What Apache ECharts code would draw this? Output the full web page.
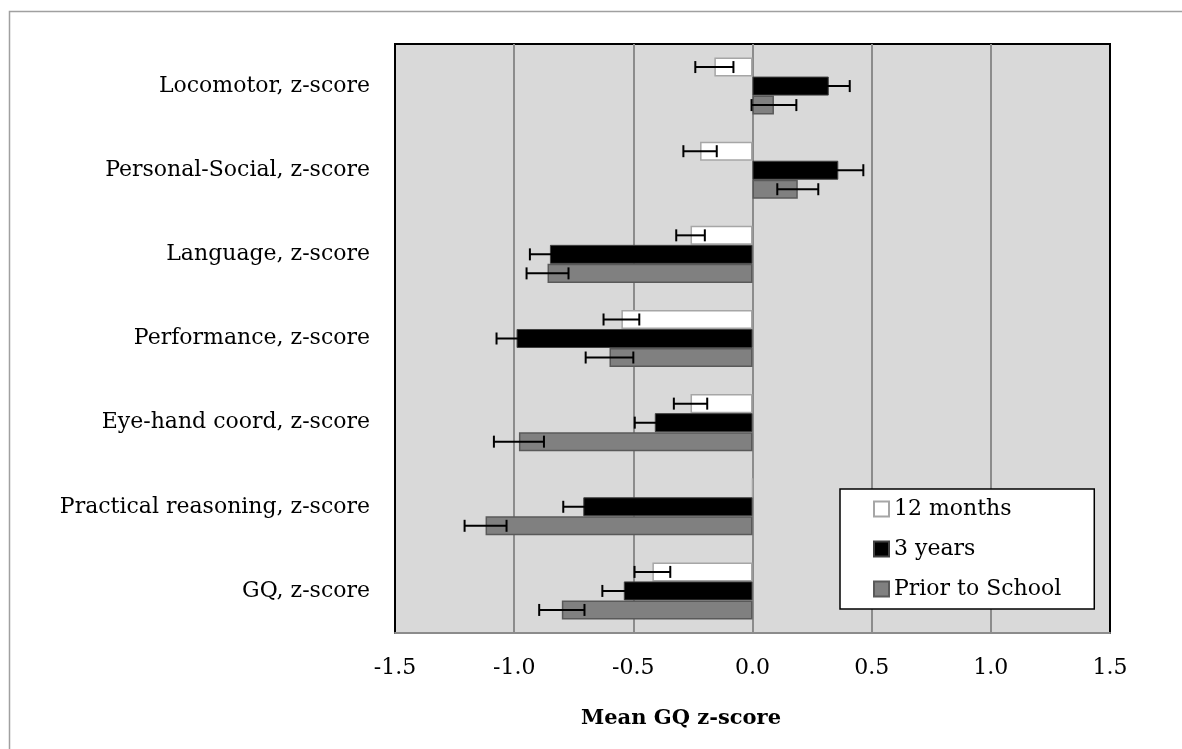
<!DOCTYPE html>
<html>
<head>
<meta charset="utf-8">
<script src="https://cdn.jsdelivr.net/npm/echarts@6/dist/echarts.min.js"></script>
<style>
	html, body { margin: 0; padding: 0; background: #fff; }
	#chart { width: 1182px; height: 749px; }
</style>
</head>
<body>
<div id="chart"></div>
<script>
var categories = ['Locomotor, z-score', 'Personal-Social, z-score', 'Language, z-score', 'Performance, z-score', 'Eye-hand coord, z-score', 'Practical reasoning, z-score', 'GQ, z-score'];
var seriesNames = ['12 months', '3 years', 'Prior to School'];
var months12 = [-0.16, -0.22, -0.26, -0.55, -0.26, 0, -0.42];
var months12Err = [0.08, 0.07, 0.06, 0.075, 0.07, null, 0.075];
var years3 = [0.32, 0.36, -0.85, -0.99, -0.41, -0.71, -0.54];
var years3Err = [0.088, 0.105, 0.084, 0.084, 0.084, 0.084, 0.09];
var priorSchool = [0.09, 0.19, -0.86, -0.60, -0.98, -1.12, -0.80];
var priorSchoolErr = [0.094, 0.086, 0.088, 0.1, 0.105, 0.088, 0.095];
var xTicks = [-1.5, -1.0, -0.5, 0.0, 0.5, 1.0, 1.5];

var fontFamily = 'DejaVu Serif';
var barPct = 0.226;

var myChart = echarts.init(document.getElementById('chart'));

// error bars: [low, category, high, slot]
var errData = [];
var allVals = [months12, years3, priorSchool];
var allErrs = [months12Err, years3Err, priorSchoolErr];
for (var s = 0; s < 3; s++) {
	for (var i = 0; i < categories.length; i++) {
		var e = allErrs[s][i];
		if (e == null) continue;
		errData.push([allVals[s][i] - e, i, allVals[s][i] + e, s]);
	}
}

function renderErr(params, api) {
	var cat = api.value(1);
	var lo = api.coord([api.value(0), cat]);
	var hi = api.coord([api.value(2), cat]);
	var band = api.size([0, 1])[1];
	var bw = band * barPct;
	var y = lo[1] + (api.value(3) - 1) * bw;
	var cap = 6;
	var style = { stroke: '#000', lineWidth: 2 };
	return {
		type: 'group',
		children: [
			{ type: 'line', shape: { x1: lo[0], y1: y, x2: hi[0], y2: y }, style: style },
			{ type: 'line', shape: { x1: lo[0], y1: y - cap, x2: lo[0], y2: y + cap }, style: style },
			{ type: 'line', shape: { x1: hi[0], y1: y - cap, x2: hi[0], y2: y + cap }, style: style }
		]
	};
}

var option = {
	animation: false,
	textStyle: { fontFamily: fontFamily },
	graphic: [
		{
			type: 'rect', z: -10,
			shape: { x: 9.5, y: 11.5, width: 1300, height: 900 },
			style: { fill: null, stroke: '#a0a0a0', lineWidth: 1.5 }
		},
		{
			type: 'text', left: 581, top: 708,
			style: { text: 'Mean GQ z-score', fontFamily: fontFamily, fontSize: 21, fontWeight: 'bold', fill: '#000' }
		}
	],
	legend: {
		orient: 'vertical',
		left: 840,
		top: 489,
		data: seriesNames,
		icon: 'rect',
		itemWidth: 15,
		itemHeight: 15,
		itemGap: 16,
		padding: [8, 33, 8, 33],
		backgroundColor: '#fff',
		borderColor: '#000',
		borderWidth: 1.5,
		borderRadius: 0,
		textStyle: { fontFamily: fontFamily, fontSize: 22, color: '#000', lineHeight: 24 }
	},
	grid: {
		left: 395,
		right: 72,
		top: 44,
		bottom: 116,
		show: true,
		backgroundColor: '#d9d9d9',
		borderColor: '#000',
		borderWidth: 2
	},
	xAxis: {
		type: 'value',
		min: xTicks[0],
		max: xTicks[xTicks.length - 1],
		interval: 0.5,
		axisLine: { show: true, onZero: false, lineStyle: { color: '#8c8c8c', width: 2 } },
		axisTick: { show: false },
		splitLine: { showMinLine: false, showMaxLine: false, lineStyle: { color: '#8c8c8c', width: 2 } },
		axisLabel: {
			margin: 24,
			fontSize: 22,
			color: '#000',
			fontFamily: fontFamily,
			formatter: function (v) { return v.toFixed(1); }
		}
	},
	yAxis: {
		type: 'category',
		inverse: true,
		data: categories,
		axisLine: { show: false },
		axisTick: { show: false },
		splitLine: { show: false },
		axisLabel: { margin: 25, fontSize: 22, color: '#000', fontFamily: fontFamily }
	},
	series: [
		{
			name: seriesNames[0], type: 'bar', data: months12,
			barWidth: (barPct * 100) + '%', barGap: '0%',
			itemStyle: { color: '#fff', borderColor: '#a6a6a6', borderWidth: 1.5 }
		},
		{
			name: seriesNames[1], type: 'bar', data: years3,
			barWidth: (barPct * 100) + '%', barGap: '0%',
			itemStyle: { color: '#000', borderColor: '#404040', borderWidth: 1 }
		},
		{
			name: seriesNames[2], type: 'bar', data: priorSchool,
			barWidth: (barPct * 100) + '%', barGap: '0%',
			itemStyle: { color: '#808080', borderColor: '#595959', borderWidth: 1.5 }
		},
		{
			type: 'custom', name: 'err', renderItem: renderErr, data: errData, z: 5,
			encode: { x: [0, 2], y: 1 }, silent: true
		}
	]
};

myChart.setOption(option);
window.addEventListener('resize', myChart.resize);
</script>
</body>
</html>
